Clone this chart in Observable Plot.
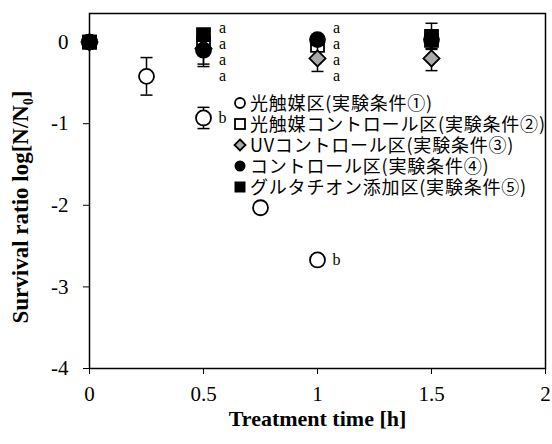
<!DOCTYPE html>
<html><head><meta charset="utf-8">
<script src="https://cdn.jsdelivr.net/npm/d3@7"></script>
<script src="https://cdn.jsdelivr.net/npm/@observablehq/plot@0.6"></script>
<style>
body{margin:0;background:#fff;}
#wrap{position:relative;width:552px;height:444px;}
#legend{position:absolute;left:233px;top:92px;font-family:"Noto Sans CJK JP","Liberation Serif",serif;font-size:18px;letter-spacing:0.8px;color:#000;}
#legend .row{display:flex;align-items:center;height:21px;line-height:21px;white-space:nowrap;}
#legend span{display:inline-block;height:21px;line-height:21px;}
#legend svg{margin-right:3px;}
g[aria-label="x-axis label"] text{font-weight:bold;font-size:22px;}
g[aria-label="y-axis label"] text{font-weight:bold;font-size:23px;}
</style></head><body><div id="wrap"><div id="legend"></div></div>
<script>
// Series names
const seriesNames = ["光触媒区(実験条件①)","光触媒コントロール区(実験条件②)","UVコントロール区(実験条件③)","コントロール区(実験条件④)","グルタチオン添加区(実験条件⑤)"];
// Series 1: photocatalyst
const s1x = [0, 0.25, 0.5, 0.75, 1.0];
const s1y = [0, -0.42, -0.93, -2.03, -2.67];
const s1e = [0, 0.23, 0.13, 0.03, 0.06];
// Series 2: photocatalyst control
const s2x = [0, 0.5, 1.0, 1.5];
const s2y = [0, -0.02, -0.04, 0.02];
const s2e = [0, 0.10, 0.06, 0.10];
// Series 3: UV control
const s3x = [0, 0.5, 1.0, 1.5];
const s3y = [0, -0.08, -0.20, -0.20];
const s3e = [0, 0.22, 0.16, 0.15];
// Series 4: control
const s4x = [0, 0.5, 1.0, 1.5];
const s4y = [0, -0.10, 0.03, 0.03];
const s4e = [0, 0.17, 0.05, 0.08];
// Series 5: glutathione
const s5x = [0, 0.5, 1.5];
const s5y = [0, 0.09, 0.07];
const s5e = [0, 0.05, 0.16];
// Significance labels
const annoX = [0.5,0.5,0.5,0.5,1.0,1.0,1.0,1.0,0.5,1.0];
const annoY = [0.17,-0.02,-0.22,-0.42,0.17,-0.02,-0.22,-0.42,-0.93,-2.67];
const annoT = ["a","a","a","a","a","a","a","a","b","b"];
// Axis ticks
const xTicks = [0, 0.5, 1, 1.5, 2];
const yTicks = [0, -1, -2, -3, -4];

const rad = s => Math.sqrt(s / Math.PI);
const sqSym = {draw(c, s){const h = rad(s); c.rect(-h,-h,2*h,2*h);}};
const diaSym = {draw(c, s){const h = rad(s)*1.15; c.moveTo(0,-h); c.lineTo(h,0); c.lineTo(0,h); c.lineTo(-h,0); c.closePath();}};
const capSym = {draw(c, s){const h = rad(s); c.moveTo(-h,0); c.lineTo(h,0);}};

const styles = [
  {symbol:"circle", fill:"white", r:7.5},
  {symbol:sqSym, fill:"white", r:6.5},
  {symbol:diaSym, fill:"#aaa", r:7},
  {symbol:"circle", fill:"black", r:7.5},
  {symbol:sqSym, fill:"black", r:6.5}
];
const allX = [s1x,s2x,s3x,s4x,s5x], allY=[s1y,s2y,s3y,s4y,s5y], allE=[s1e,s2e,s3e,s4e,s5e];

const marks = [];
allX.forEach((xs, i) => {
  const rows = xs.map((x, j) => ({x, y: allY[i][j], e: allE[i][j]}));
  const er = rows.filter(d => d.e > 0);
  marks.push(Plot.ruleX(er, {x:"x", y1:d=>d.y-d.e, y2:d=>d.y+d.e, stroke:"black", strokeWidth:1.5}));
  marks.push(Plot.dot(er, {x:"x", y:d=>d.y+d.e, symbol:capSym, r:6, stroke:"black", strokeWidth:1.5}));
  marks.push(Plot.dot(er, {x:"x", y:d=>d.y-d.e, symbol:capSym, r:6, stroke:"black", strokeWidth:1.5}));
  marks.push(Plot.dot(rows, {x:"x", y:"y", symbol:styles[i].symbol, r:styles[i].r, fill:styles[i].fill, stroke:"black", strokeWidth:1.8}));
});
marks.push(Plot.text(annoT.map((t,i)=>({t, x:annoX[i], y:annoY[i]})), {x:"x", y:"y", text:"t", dx:19, fontSize:16, fontFamily:"Liberation Serif", fill:"black"}));
marks.push(Plot.frame({stroke:"black", strokeWidth:1.5}));

const chart = Plot.plot({
  width: 552, height: 444,
  marginLeft: 89, marginRight: 7, marginTop: 13, marginBottom: 76,
  style: {fontFamily: "Liberation Serif, serif", fontSize: "21px", color: "black", background: "white"},
  x: {domain:[0,2], ticks: xTicks, tickFormat: d => String(d), tickSize: 6, tickPadding: 12, label: "Treatment time [h]", labelAnchor: "center", labelArrow: "none", labelOffset: 57},
  y: {domain:[-4,0.35], ticks: yTicks, tickFormat: d => String(d), tickSize: 6, tickPadding: 15, label: "Survival ratio log[N/N₀]", labelAnchor: "center", labelArrow: "none", labelOffset: 78},
  marks
});
document.getElementById("wrap").prepend(chart);
chart.querySelectorAll('g[aria-label="y-axis label"] text').forEach(t => {
  t.setAttribute("transform", "translate(0,16) " + (t.getAttribute("transform") || ""));
});

// legend
const leg = document.getElementById("legend");
const legSvg = [
  '<circle cx="7" cy="7" r="5" fill="white" stroke="black" stroke-width="1.8"/>',
  '<rect x="2" y="2" width="10" height="10" fill="white" stroke="black" stroke-width="1.8"/>',
  '<path d="M7,1.5L12.5,7L7,12.5L1.5,7Z" fill="#aaa" stroke="black" stroke-width="1.8"/>',
  '<circle cx="7" cy="7" r="5.5" fill="black"/>',
  '<rect x="1.5" y="1.5" width="11" height="11" fill="black"/>'
];
seriesNames.forEach((n, i) => {
  const row = document.createElement("div");
  row.className = "row";
  row.innerHTML = '<svg width="14" height="14">' + legSvg[i] + '</svg><span></span>';
  row.querySelector("span").textContent = n;
  leg.appendChild(row);
});
</script></body></html>
